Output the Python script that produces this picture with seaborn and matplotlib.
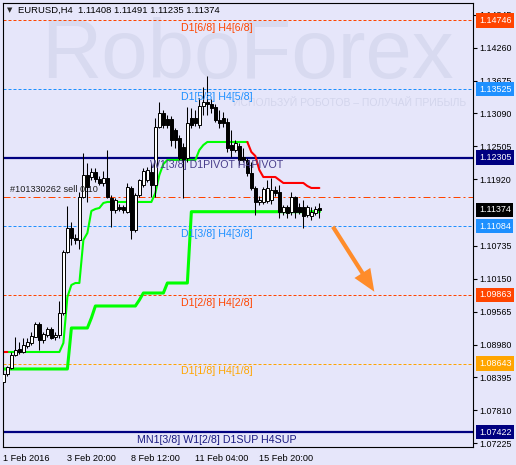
import numpy as np
import pandas as pd
import matplotlib
matplotlib.use("Agg")
import matplotlib.pyplot as plt
import seaborn as sns

# ---- values ----
SYMBOL = "EURUSD,H4"
last_quote = [1.11408, 1.11491, 1.11235, 1.11374]

bar_open = [1.08315, 1.08457, 1.08564, 1.08795, 1.08901, 1.08848, 1.08955, 1.09008, 1.09115, 1.09346,
            1.09061, 1.09150, 1.09257, 1.09115, 1.09150, 1.09542, 1.10626, 1.11053, 1.10875, 1.10840,
            1.11605, 1.11996, 1.11960, 1.12049, 1.11925, 1.11854, 1.11942, 1.11587, 1.11373, 1.11427,
            1.11427, 1.11338, 1.11765, 1.11018, 1.11640, 1.11818, 1.11907, 1.12049, 1.11818, 1.12849,
            1.13098, 1.12992, 1.12992, 1.12796, 1.12654, 1.12494, 1.12298, 1.13010, 1.13010, 1.12885,
            1.13223, 1.13294, 1.13258, 1.13205, 1.12974, 1.13010, 1.12938, 1.12529, 1.12440, 1.12512,
            1.12316, 1.12263, 1.12031, 1.11765, 1.11516, 1.11516, 1.11533, 1.11551, 1.11729, 1.11694,
            1.11338, 1.11427, 1.11338, 1.11605, 1.11427, 1.11427, 1.11284, 1.11267, 1.11320, 1.11408]
bar_high = [1.08492, 1.08599, 1.08848, 1.09115, 1.09026, 1.09097, 1.09097, 1.09204, 1.09382, 1.09382,
            1.09204, 1.09293, 1.09293, 1.09204, 1.09755, 1.10662, 1.11445, 1.11160, 1.10947, 1.11694,
            1.12387, 1.12209, 1.12120, 1.12120, 1.11978, 1.12067, 1.12440, 1.11640, 1.11587, 1.11480,
            1.11462, 1.11854, 1.11800, 1.11676, 1.11925, 1.12120, 1.12138, 1.12209, 1.13010, 1.13294,
            1.13152, 1.13063, 1.13045, 1.12832, 1.12707, 1.12565, 1.13205, 1.13187, 1.13152, 1.13365,
            1.13561, 1.13756, 1.13347, 1.13258, 1.13152, 1.13116, 1.13010, 1.12796, 1.12618, 1.12565,
            1.12476, 1.12298, 1.12227, 1.11800, 1.11622, 1.11782, 1.11907, 1.11942, 1.11800, 1.11818,
            1.11462, 1.11462, 1.11694, 1.11622, 1.11498, 1.11551, 1.11462, 1.11427, 1.11445, 1.11491]
bar_low = [1.08279, 1.08421, 1.08546, 1.08777, 1.08812, 1.08830, 1.08919, 1.08973, 1.09115, 1.08884,
           1.09008, 1.09115, 1.09079, 1.09061, 1.09097, 1.09506, 1.10609, 1.10751, 1.10769, 1.10680,
           1.11587, 1.11516, 1.11907, 1.11871, 1.11818, 1.11800, 1.11587, 1.11071, 1.11320, 1.11356,
           1.11320, 1.11320, 1.10858, 1.10982, 1.11605, 1.11782, 1.11871, 1.11605, 1.11605, 1.12832,
           1.12832, 1.12832, 1.12512, 1.12476, 1.12263, 1.11587, 1.12227, 1.12832, 1.12867, 1.12832,
           1.13063, 1.13063, 1.13098, 1.12938, 1.12832, 1.12849, 1.12405, 1.12316, 1.12405, 1.12174,
           1.12227, 1.11978, 1.11729, 1.11284, 1.11462, 1.11480, 1.11498, 1.11480, 1.11622, 1.11231,
           1.11284, 1.11231, 1.11284, 1.11231, 1.11302, 1.11053, 1.11249, 1.11196, 1.11284, 1.11235]
bar_close = [1.08457, 1.08581, 1.08795, 1.08884, 1.08848, 1.08973, 1.09026, 1.09133, 1.09346, 1.09061,
             1.09168, 1.09257, 1.09097, 1.09150, 1.09542, 1.10626, 1.11053, 1.10875, 1.10840, 1.11605,
             1.11996, 1.11782, 1.12049, 1.11925, 1.11854, 1.11942, 1.11605, 1.11373, 1.11551, 1.11391,
             1.11373, 1.11782, 1.11018, 1.11640, 1.11907, 1.12067, 1.12085, 1.11818, 1.12849, 1.13098,
             1.12885, 1.12885, 1.12618, 1.12618, 1.12298, 1.12263, 1.12921, 1.12885, 1.12921, 1.13223,
             1.13294, 1.13258, 1.13187, 1.12974, 1.12921, 1.12921, 1.12476, 1.12440, 1.12565, 1.12263,
             1.12263, 1.12031, 1.11765, 1.11516, 1.11551, 1.11747, 1.11765, 1.11729, 1.11676, 1.11338,
             1.11427, 1.11320, 1.11605, 1.11338, 1.11338, 1.11267, 1.11427, 1.11338, 1.11391, 1.11374]

nan = np.nan
# trailing stop: green while below price, red while above
trail_up = [nan, 1.08848, 1.08848, 1.08848, 1.08848, 1.08848, 1.08848, 1.08848, 1.08848, 1.08848,
            1.08848, 1.08848, 1.08848, 1.08848, 1.08848, 1.09008, 1.09826, 1.10040, 1.10075, 1.10075,
            1.10840, 1.10964, 1.11356, 1.11391, 1.11409, 1.11498, 1.11516, 1.11516, 1.11516, 1.11516,
            1.11516, 1.11516, 1.11516, 1.11516, 1.11516, 1.11516, 1.11516, 1.11516, 1.11676, 1.11996,
            1.12191, 1.12263, 1.12263, 1.12263, 1.12263, 1.12263, 1.12263, 1.12263, 1.12263, 1.12440,
            1.12529, 1.12583, 1.12583, 1.12583, 1.12583, 1.12583, 1.12583, 1.12583, 1.12583, 1.12583,
            1.12583, 1.12583, nan, nan, nan, nan, nan, nan, nan, nan,
            nan, nan, nan, nan, nan, nan, nan, nan, nan, nan]
trail_down = [1.08848, 1.08848, nan, nan, nan, nan, nan, nan, nan, nan,
              nan, nan, nan, nan, nan, nan, nan, nan, nan, nan,
              nan, nan, nan, nan, nan, nan, nan, nan, nan, nan,
              nan, nan, nan, nan, nan, nan, nan, nan, nan, nan,
              nan, nan, nan, nan, nan, nan, nan, nan, nan, nan,
              nan, nan, nan, nan, nan, nan, nan, nan, nan, nan,
              nan, 1.12583, 1.12405, 1.12334, 1.12085, 1.11960, 1.11960, 1.11960, 1.11960, 1.11907,
              1.11854, 1.11854, 1.11854, 1.11854, 1.11854, 1.11854, 1.11800, 1.11765, 1.11765, 1.11765]
# slower support line
support = [1.08546, 1.08546, 1.08546, 1.08546, 1.08546, 1.08546, 1.08546, 1.08546, 1.08546, 1.08546,
           1.08546, 1.08546, 1.08546, 1.08546, 1.08546, 1.08546, 1.08546, 1.09275, 1.09275, 1.09275,
           1.09275, 1.09275, 1.09453, 1.09666, 1.09666, 1.09666, 1.09666, 1.09666, 1.09666, 1.09666,
           1.09666, 1.09666, 1.09666, 1.09666, 1.09773, 1.09897, 1.09897, 1.09897, 1.09897, 1.09897,
           1.09897, 1.10075, 1.10075, 1.10075, 1.10075, 1.10075, 1.10075, 1.11343, 1.11343, 1.11343,
           1.11343, 1.11343, 1.11343, 1.11343, 1.11343, 1.11343, 1.11343, 1.11343, 1.11343, 1.11343,
           1.11343, 1.11343, 1.11343, 1.11343, 1.11343, 1.11343, 1.11343, 1.11343, 1.11343, 1.11343,
           1.11343, 1.11343, 1.11343, 1.11343, 1.11343, 1.11343, 1.11343, 1.11343, 1.11343, 1.11343]

level_prices = [1.14746, 1.13525, 1.12305, 1.11084, 1.09863, 1.08643, 1.07422]
level_names = ["D1[6/8] H4[6/8]", "D1[5/8] H4[5/8]", "W1[3/8] D1PIVOT H4PIVOT", "D1[3/8] H4[3/8]",
               "D1[2/8] H4[2/8]", "D1[1/8] H4[1/8]", "MN1[3/8] W1[2/8] D1SUP H4SUP"]
sell_price = 1.11605
sell_label = "#101330262 sell 0.10"

price_ticks = [1.07225, 1.07810, 1.08395, 1.08980, 1.09565, 1.10150, 1.10735,
               1.11920, 1.12505, 1.13090, 1.13675, 1.14260, 1.14845]
time_ticks = [0, 16, 32, 48, 64]
time_labels = ["1 Feb 2016", "3 Feb 20:00", "8 Feb 12:00", "11 Feb 04:00", "15 Feb 20:00"]

# ---- styling ----
BG = "#E6E6FA"
level_colors = ["#FF4500", "#1E90FF", "#000080", "#1E90FF", "#FF4500", "#FFA500", "#000080"]
label_colors = ["#FF4500", "#1E90FF", "#483D8B", "#1E90FF", "#FF4500", "#FFA500", "#1A1A80"]
level_solid = [False, False, True, False, False, False, True]

sns.set_theme(style="white", rc={"axes.facecolor": BG, "figure.facecolor": BG,
                                 "axes.edgecolor": "black", "axes.linewidth": 0.8})
plt.rcParams["font.family"] = ["Liberation Sans", "DejaVu Sans"]

df = pd.DataFrame({"open": bar_open, "high": bar_high, "low": bar_low, "close": bar_close,
                   "trail_up": trail_up, "trail_down": trail_down, "support": support})
df["bar"] = np.arange(len(df))

fig = plt.figure(figsize=(5.16, 4.65), dpi=100)
ax = fig.add_axes([3 / 516, 17.7 / 465, 470.3 / 516, 444.6 / 465])
ax.set_xlim(-0.1, 117.5)
ax.set_ylim(1.07153, 1.15060)

# watermark
ax.text(0.52, 0.83, "RoboForex", transform=ax.transAxes, fontsize=60, color="#D8DAF0",
        ha="center", va="baseline", zorder=0)
ax.text(0.489, 0.767, "ИСПОЛЬЗУЙ РОБОТОВ – ПОЛУЧАЙ ПРИБЫЛЬ", transform=ax.transAxes,
        fontsize=7.5, color="#D3D5EC", ha="left", va="baseline", zorder=0, clip_on=True)

# levels
for price, name, col, tcol, solid in zip(level_prices, level_names, level_colors, label_colors, level_solid):
    if solid:
        ax.axhline(price, color=col, lw=1.6, zorder=1)
    else:
        ax.axhline(price, color=col, lw=0.72, dashes=(3, 2), zorder=1)
    ax.annotate(name, xy=(53.4, price), xytext=(0, -2), textcoords="offset points",
                ha="center", va="top", fontsize=7.7, color=tcol, zorder=6)
    ax.annotate(f"{price:.5f}", xy=(1, price), xycoords=("axes fraction", "data"),
                xytext=(4, 0), textcoords="offset points", ha="left", va="center",
                fontsize=6.4, color="white", annotation_clip=False, zorder=20,
                bbox=dict(boxstyle="square,pad=0.3", fc=col, ec="none"))

# order line
ax.axhline(sell_price, color="#FF4500", lw=0.72, dashes=(7, 3, 2, 3), zorder=1)
ax.annotate(sell_label, xy=(1.7, sell_price), xytext=(0, 2), textcoords="offset points",
            ha="left", va="bottom", fontsize=6.6, color="#202020", zorder=6)

# indicator lines
sns.lineplot(data=df[df["trail_up"].notna()], x="bar", y="trail_up", color="#00FF00",
             lw=1.5, ax=ax, zorder=2)
ax.plot(df["bar"], df["trail_down"], color="#FF0000", lw=1.5, zorder=2)
sns.lineplot(data=df, x="bar", y="support", color="#00FF00", lw=2.2, ax=ax, zorder=2)

# candles
up = df["close"] >= df["open"]
ax.vlines(df["bar"], df["low"], df["high"], color="black", lw=0.75, zorder=3)
ax.bar(df["bar"], (df["close"] - df["open"]).abs().clip(lower=0.00012),
       bottom=df[["open", "close"]].min(axis=1), width=0.6,
       color=np.where(up, "white", "black"), edgecolor="black", linewidth=0.7, zorder=4)

# current price tag
ax.annotate(f"{last_quote[3]:.5f}", xy=(1, last_quote[3]), xycoords=("axes fraction", "data"),
            xytext=(4, 0), textcoords="offset points", ha="left", va="center",
            fontsize=6.4, color="white", annotation_clip=False, zorder=20,
            bbox=dict(boxstyle="square,pad=0.3", fc="black", ec="none"))

# forecast arrow
ax.annotate("", xy=(92.75, 1.09920), xytext=(82.4, 1.11076),
            arrowprops=dict(arrowstyle="simple,head_length=1.6,head_width=1.35,tail_width=0.3",
                            mutation_scale=10, color="#FF8C2A", lw=0, shrinkA=0, shrinkB=0),
            zorder=5)

# axes
ax.yaxis.tick_right()
ax.set_yticks(price_ticks)
ax.set_yticklabels([f"{p:.5f}" for p in price_ticks])
ax.set_xticks(time_ticks)
ax.set_xticklabels(time_labels)
for lab in ax.get_xticklabels():
    lab.set_horizontalalignment("left")
ax.tick_params(axis="y", direction="out", length=3, width=0.8, pad=1.5, labelsize=6.4, colors="black")
ax.tick_params(axis="x", direction="out", length=3, width=0.8, pad=2, labelsize=6.6, colors="black")
ax.set_xlabel("")
ax.set_ylabel("")
for s in ax.spines.values():
    s.set_color("black")
    s.set_linewidth(0.8)

fig.text(7 / 516, 1 - 10 / 465, "▼", fontsize=5, va="center", ha="left", family="DejaVu Sans")
fig.text(18 / 516, 1 - 10 / 465, f"{SYMBOL}  " + " ".join(f"{v:.5f}" for v in last_quote),
         fontsize=6.8, va="center", ha="left", color="black")

fig.savefig("out.png", dpi=100, facecolor=BG)
